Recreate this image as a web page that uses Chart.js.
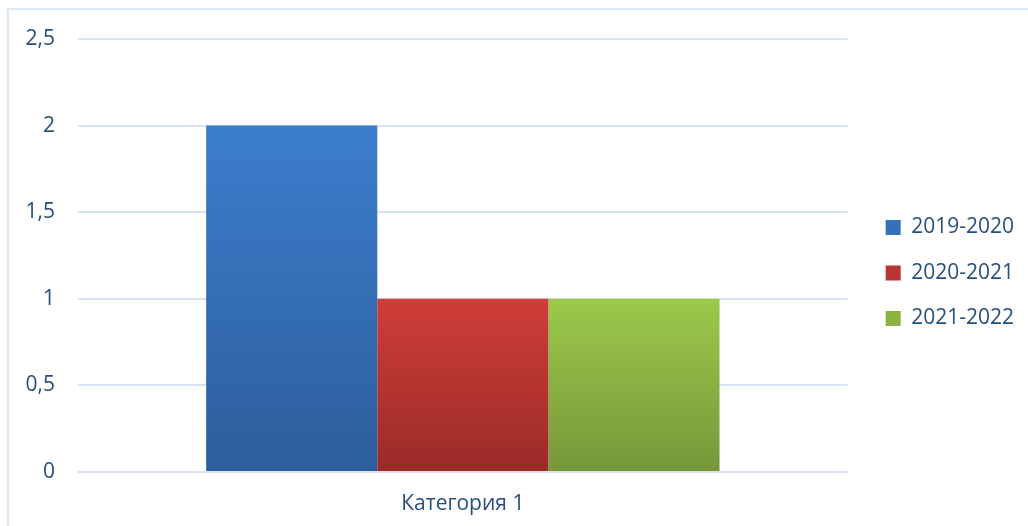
<!DOCTYPE html>
<html>
<head>
<meta charset="utf-8">
<script src="https://cdn.jsdelivr.net/npm/chart.js@4/dist/chart.umd.min.js"></script>
<style>
  html, body { margin: 0; padding: 0; background: #fff; }
  #wrap { position: relative; width: 1028px; height: 526px; }
  #frame {
    position: absolute; left: 7px; top: 8px; width: 1030px; height: 530px;
    border: 2px solid #dce7f3; box-sizing: border-box; pointer-events: none;
  }
  canvas { display: block; }
</style>
</head>
<body>
<div id="wrap">
  <canvas id="chart" width="1028" height="526"></canvas>
  <div id="frame"></div>
</div>
<script>
const categories = ["Категория 1"];
const seriesNames = ["2019-2020", "2020-2021", "2021-2022"];
const values2019 = [2];
const values2020 = [1];
const values2021 = [1];
const yTicks = [0, 0.5, 1, 1.5, 2, 2.5];

const TEXT = "#264f7f";
const FONT = "'Open Sans', 'Noto Sans', sans-serif";

// top / bottom colours of each bar gradient
const colorsTop = ["#3c7ecd", "#d03d38", "#9cc94b"];
const colorsBottom = ["#2d5d9b", "#9a2b28", "#76973a"];
const colorsMid = ["#3570b8", "#b83532", "#8ab343"];

function barGradient(i) {
  return function(ctx) {
    const chart = ctx.chart;
    if (!chart.chartArea || ctx.type !== "data") return colorsTop[i];
    const yScale = chart.scales.y;
    const top = yScale.getPixelForValue(ctx.raw);
    const bottom = yScale.getPixelForValue(0);
    const g = chart.ctx.createLinearGradient(0, top, 0, bottom);
    g.addColorStop(0, colorsTop[i]);
    g.addColorStop(1, colorsBottom[i]);
    return g;
  };
}

const seriesValues = [values2019, values2020, values2021];

new Chart(document.getElementById("chart"), {
  type: "bar",
  data: {
    labels: categories,
    datasets: seriesNames.map((name, i) => ({
      label: name,
      data: seriesValues[i],
      backgroundColor: barGradient(i),
      borderWidth: 0,
      categoryPercentage: 0.667,
      barPercentage: 1.0
    }))
  },
  options: {
    responsive: false,
    animation: false,
    layout: { padding: { left: 26, top: 20, right: 4, bottom: 0 } },
    scales: {
      x: {
        grid: { display: false, drawTicks: false },
        border: { display: false },
        ticks: { color: TEXT, font: { family: FONT, size: 21 }, padding: 19 },
        afterFit: (s) => { s.height = 54; }
      },
      gapTop: {
        type: "category",
        position: "top",
        display: true,
        grid: { display: false, drawTicks: false },
        border: { display: false },
        ticks: { display: false },
        afterFit: (s) => { s.height = 19; }
      },
      y: {
        min: 0,
        max: 2.5,
        afterBuildTicks: (s) => { s.ticks = yTicks.map(v => ({ value: v })); },
        grid: { color: "#d7e3f2", lineWidth: 2, drawTicks: false },
        border: { display: false },
        ticks: {
          color: TEXT,
          font: { family: FONT, size: 21 },
          padding: 23,
          callback: (v) => String(v).replace(".", ",")
        },
        afterFit: (s) => { s.width = 52; }
      },
      gap: {
        position: "right",
        display: true,
        grid: { display: false, drawTicks: false },
        border: { display: false },
        ticks: { display: false },
        afterFit: (s) => { s.width = 13.5; }
      }
    },
    plugins: {
      legend: {
        position: "right",
        labels: {
          color: TEXT,
          font: { family: FONT, size: 21 },
          boxWidth: 15,
          boxHeight: 15,
          padding: 24.5,
          generateLabels: (chart) => chart.data.datasets.map((ds, i) => ({
            text: ds.label,
            fillStyle: colorsMid[i],
            strokeStyle: colorsMid[i],
            lineWidth: 0,
            fontColor: TEXT,
            datasetIndex: i
          }))
        }
      },
      tooltip: { enabled: false }
    }
  }
});
</script>
</body>
</html>
